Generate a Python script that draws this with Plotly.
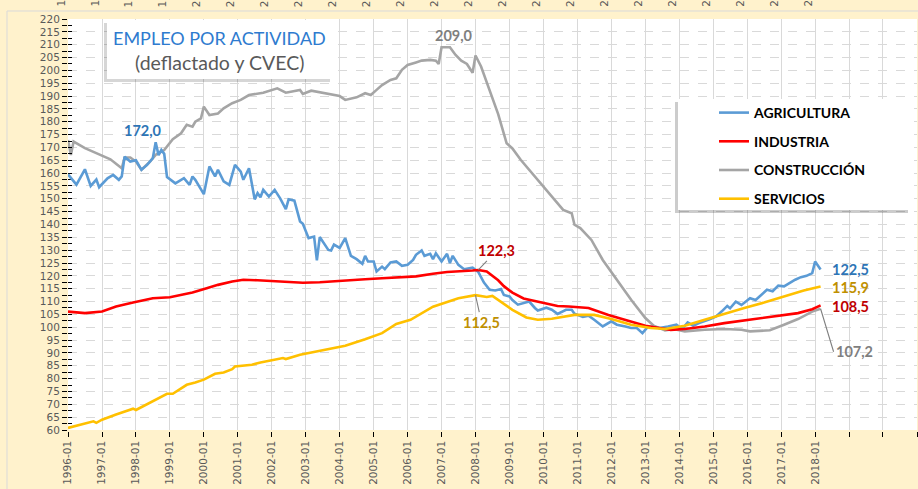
import plotly.graph_objects as go

# ---------------- DATA ----------------
agri_dates = ["1996-01","1996-04","1996-07","1996-09","1996-11","1996-12","1997-03","1997-05","1997-07","1997-08",
              "1997-09","1997-11","1998-01","1998-03","1998-05","1998-07","1998-08","1998-09","1998-10","1998-11",
              "1998-12","1999-03","1999-06","1999-08","1999-09","1999-10","2000-01","2000-03","2000-05","2000-06",
              "2000-08","2000-10","2000-12","2001-02","2001-03","2001-05","2001-07","2001-08","2001-09","2001-10",
              "2001-12","2002-02","2002-04","2002-06","2002-07","2002-09","2002-11","2002-12","2003-02","2003-04",
              "2003-05","2003-06","2003-09","2003-10","2003-11","2004-01","2004-03","2004-05","2004-07","2004-09",
              "2004-10","2004-11","2005-01","2005-02","2005-04","2005-05","2005-07","2005-09","2005-11","2006-01",
              "2006-03","2006-04","2006-06","2006-07","2006-09","2006-10","2006-11","2007-01","2007-03","2007-04",
              "2007-05","2007-07","2007-09","2007-12","2008-02","2008-04","2008-06","2008-08","2008-10","2008-11",
              "2009-01","2009-02","2009-04","2009-07","2009-08","2009-10","2009-11","2010-02","2010-04","2010-06",
              "2010-09","2010-11","2010-12","2011-03","2011-05","2011-07","2011-10","2012-01","2012-03","2012-06",
              "2012-08","2012-10","2012-12","2013-02","2013-06","2013-09","2013-12","2014-02","2014-04","2014-06",
              "2014-08","2014-12","2015-02","2015-04","2015-06","2015-07","2015-09","2015-11","2016-02","2016-04",
              "2016-06","2016-08","2016-10","2016-12","2017-02","2017-04","2017-06","2017-08","2017-10","2017-12",
              "2018-01","2018-03"]
agri_vals = [159.5,155.5,161.5,155.0,157.5,154.5,158.0,159.3,157.4,158.7,
             166.4,164.5,165.0,161.3,163.2,165.8,172.0,167.0,169.0,167.5,
             158.5,156.0,158.0,155.4,158.7,157.4,151.8,162.6,158.7,161.3,
             156.8,155.4,163.2,160.6,157.4,161.9,149.8,152.2,150.6,153.5,
             150.9,153.5,150.2,146.0,149.8,149.3,141.2,140.3,134.7,135.3,
             126.0,135.1,130.1,129.9,132.2,130.9,134.7,127.8,126.5,124.7,
             127.8,125.6,125.6,121.7,123.6,122.6,125.2,125.6,123.9,124.3,
             126.2,128.2,129.9,127.8,128.6,126.5,128.8,125.6,128.6,125.0,
             127.8,124.3,122.6,123.2,121.5,117.4,114.6,114.3,114.9,112.6,
             112.0,110.6,108.8,109.5,110.0,107.5,106.5,107.6,106.8,105.2,
             106.8,106.8,105.3,104.0,104.5,102.9,100.3,102.3,101.0,100.3,
             99.7,99.7,97.7,100.3,99.7,100.3,101.0,99.3,101.9,100.6,
             101.6,103.2,104.2,106.1,108.3,107.4,110.0,108.7,111.3,110.6,
             112.6,114.6,114.0,116.2,115.9,117.2,118.5,119.5,120.0,121.1,
             125.6,122.5]

ind_dates = ["1996-01","1996-07","1997-01","1997-06","1997-12","1998-07","1999-01","1999-04","1999-09","2000-02",
             "2000-06","2000-11","2001-03","2001-08","2002-01","2002-06","2002-12","2003-06","2004-04","2004-10",
             "2005-04","2006-04","2006-10","2007-03","2007-12","2008-02","2008-05","2008-07","2008-09","2008-11",
             "2009-02","2009-06","2009-11","2010-02","2010-06","2010-10","2011-05","2011-12","2012-06","2013-01",
             "2013-06","2013-10","2014-03","2014-10","2015-05","2016-02","2016-12","2017-07","2017-12","2018-03"]
ind_vals = [106.1,105.5,106.1,108.1,109.6,111.3,111.7,112.3,113.5,115.2,
            116.5,117.8,118.5,118.3,118.0,117.8,117.3,117.5,118.4,118.7,
            119.1,119.8,120.8,121.5,122.1,122.3,121.7,120.0,118.3,116.0,
            113.5,111.2,110.0,109.1,108.3,108.1,107.5,104.8,102.9,100.6,
            99.7,99.0,99.3,100.3,101.6,102.9,104.5,105.5,107.0,108.5]

cons_dates = ["1996-01","1996-02","1996-03","1996-07","1996-12","1997-04","1997-08","1997-09","1997-11","1998-01",
              "1998-03","1998-06","1998-08","1998-09","1998-11","1999-02","1999-05","1999-07","1999-09","1999-10",
              "1999-12","2000-01","2000-03","2000-06","2000-08","2000-11","2001-02","2001-05","2001-10","2002-03",
              "2002-06","2002-11","2002-12","2003-03","2003-08","2004-01","2004-03","2004-07","2004-10","2004-12",
              "2005-02","2005-04","2005-07","2005-09","2005-11","2006-01","2006-04","2006-06","2006-09","2006-11",
              "2006-12","2007-01","2007-04","2007-06","2007-08","2007-10","2007-12","2008-01","2008-03","2008-05",
              "2008-09","2008-12","2009-02","2009-05","2009-07","2009-11","2010-04","2010-06","2010-08","2010-11",
              "2010-12","2011-02","2011-06","2011-10","2012-03","2012-08","2013-01","2013-04","2013-08","2013-11",
              "2014-03","2014-10","2015-05","2015-11","2016-02","2016-09","2017-02","2017-07","2017-12","2018-03"]
cons_vals = [172.9,167.1,172.3,169.7,167.3,165.4,161.9,166.1,166.1,164.5,
             161.3,164.5,167.1,167.7,169.0,173.2,175.5,178.8,178.1,180.0,
             181.3,185.9,182.6,183.2,185.2,187.2,188.5,190.4,191.3,193.0,
             191.3,192.4,190.8,192.1,191.1,190.0,188.5,189.5,191.1,190.4,
             192.4,194.3,196.3,196.9,200.2,202.1,203.1,203.8,204.1,203.8,
             202.5,209.0,209.0,206.0,203.8,202.5,199.1,205.8,201.5,195.5,
             183.0,171.6,169.6,165.2,162.6,157.4,150.9,148.3,145.7,144.4,
             139.9,138.6,134.0,126.2,118.5,110.7,103.6,100.6,98.8,99.3,
             98.4,99.0,99.3,99.0,98.4,98.8,101.0,103.2,106.1,107.2]

serv_dates = ["1996-01","1996-10","1996-11","1997-01","1997-06","1997-12","1998-01","1998-07","1998-12","1999-02",
              "1999-05","1999-07","1999-10","2000-01","2000-05","2000-08","2000-11","2000-12","2001-06","2001-09",
              "2002-05","2002-06","2002-11","2003-06","2003-11","2004-03","2004-10","2005-04","2005-09","2006-02",
              "2006-10","2007-07","2008-01","2008-05","2008-07","2008-10","2009-02","2009-07","2009-11","2010-04",
              "2010-12","2011-07","2012-01","2012-08","2013-03","2013-08","2014-03","2014-10","2015-05","2015-12",
              "2016-07","2017-02","2017-09","2018-03"]
serv_vals = [60.8,63.4,62.8,64.0,66.0,68.3,67.8,71.1,74.1,74.1,
             76.3,77.6,78.5,79.6,81.9,82.4,83.7,84.7,85.4,86.3,
             88.0,87.6,89.3,90.8,91.9,92.8,95.3,97.7,101.3,102.9,
             108.0,111.3,112.5,111.8,112.2,110.0,106.8,103.8,102.9,103.3,
             104.8,104.8,103.2,101.0,99.7,99.3,100.6,102.9,105.3,107.5,
             109.6,112.0,114.3,115.9]

series_names = ["AGRICULTURA", "INDUSTRIA", "CONSTRUCCIÓN", "SERVICIOS"]
year_tick_vals = [f"{y}-01-01" for y in range(1996, 2022)]
year_tick_text = [f"{y}-01" if y <= 2018 else "" for y in range(1996, 2022)]

# ---------------- LAYOUT HELPERS ----------------
W, H = 918, 489
L, R, T, B = 68, 1, 19, 59
PW, PH = W - L - R, H - T - B
def fx(p):  # pixel x -> paper
    return (p - L) / PW
def fy(p):  # pixel y -> paper
    return (H - B - p) / PH

C_AGRI, C_IND, C_CONS, C_SERV = "#5B9BD5", "#FF0000", "#A5A5A5", "#FFC000"
LBL_FONT = "Lato"
TICK_FONT = "DejaVu Sans"

fig = go.Figure()
fig.add_trace(go.Scatter(x=agri_dates, y=agri_vals, mode="lines", name=series_names[0],
                         line=dict(color=C_AGRI, width=2.6), zorder=1, legendgroup="g1"))
fig.add_trace(go.Scatter(x=ind_dates, y=ind_vals, mode="lines", name=series_names[1],
                         line=dict(color=C_IND, width=2.6), zorder=2, legendgroup="g2"))
fig.add_trace(go.Scatter(x=cons_dates, y=cons_vals, mode="lines", name=series_names[2],
                         line=dict(color=C_CONS, width=2.6), zorder=0, legendgroup="g3"))
fig.add_trace(go.Scatter(x=serv_dates, y=serv_vals, mode="lines", name=series_names[3],
                         line=dict(color=C_SERV, width=2.6), zorder=3, legendgroup="g4"))
# invisible trace to activate the overlay axis carrying inner tick marks
fig.add_trace(go.Scatter(x=[agri_dates[0]], y=[None], yaxis="y2", showlegend=False,
                         hoverinfo="skip", mode="lines"))

shapes = [
    # chart area border
    dict(type="rect", xref="paper", yref="paper", x0=fx(7), x1=fx(940), y0=fy(500), y1=fy(11),
         line=dict(color="#D9D9D9", width=1), fillcolor="rgba(0,0,0,0)", layer="below"),
    # title box shadow + box
    dict(type="rect", xref="paper", yref="paper", x0=fx(104), x1=fx(330), y0=fy(82), y1=fy(23),
         line=dict(width=0), fillcolor="rgba(0,0,0,0.16)", layer="above"),
    dict(type="rect", xref="paper", yref="paper", x0=fx(107), x1=fx(332), y0=fy(79), y1=fy(20),
         line=dict(width=0), fillcolor="white", layer="above"),
    # legend box shadow + box
    dict(type="rect", xref="paper", yref="paper", x0=fx(675), x1=fx(908), y0=fy(213), y1=fy(102),
         line=dict(width=0), fillcolor="rgba(0,0,0,0.2)", layer="above"),
    dict(type="rect", xref="paper", yref="paper", x0=fx(678), x1=fx(911), y0=fy(210), y1=fy(99),
         line=dict(width=0), fillcolor="white", layer="above"),
]

def lab(x, y, text, color, **kw):
    d = dict(x=x, y=y, xref="x", yref="y", text=f"<b>{text}</b>", showarrow=False,
             xanchor="center", yanchor="middle",
             font=dict(family=LBL_FONT, size=14.5, color=color))
    d.update(kw)
    return d

i_agri_max = agri_vals.index(max(agri_vals[:30]))
i_cons_max = cons_vals.index(max(cons_vals))
i_ind_max = ind_vals.index(max(ind_vals))
i_serv_max = serv_vals.index(max(serv_vals[:40]))

LEADER = dict(showarrow=True, arrowhead=0, arrowwidth=1.1, arrowcolor="#7F7F7F", standoff=0)

annotations = [
    dict(x=0.5 * (fx(107) + fx(332)), y=fy(38), xref="paper", yref="paper", text="EMPLEO POR ACTIVIDAD",
         xanchor="center", yanchor="middle",
         showarrow=False, font=dict(family=LBL_FONT, size=18, color="#2E7BCF")),
    dict(x=0.5 * (fx(107) + fx(332)), y=fy(63), xref="paper", yref="paper", text="(deflactado y CVEC)",
         xanchor="center", yanchor="middle",
         showarrow=False, font=dict(family=LBL_FONT, size=19.5, color="#595959")),
    lab(agri_dates[i_agri_max], agri_vals[i_agri_max], "172,0", "#2E75B6",
        yanchor="bottom", xshift=-13, yshift=1),
    lab(cons_dates[i_cons_max], cons_vals[i_cons_max], "209,0", "#7F7F7F",
        yanchor="bottom", xshift=12, yshift=1),
    lab(ind_dates[i_ind_max], ind_vals[i_ind_max], "122,3", "#C00000", ax=18, ay=-19, **LEADER),
    lab(serv_dates[i_serv_max], serv_vals[i_serv_max], "112,5", "#BF9000", ax=6, ay=27, **LEADER),
    lab(agri_dates[-1], agri_vals[-1], "122,5", "#2E75B6", xanchor="left", xshift=9),
    lab(serv_dates[-1], serv_vals[-1], "115,9", "#BF9000", xanchor="left", xshift=9, yshift=-1),
    lab(ind_dates[-1], ind_vals[-1], "108,5", "#C00000", xanchor="left", xshift=9, yshift=-1),
    lab(cons_dates[-1], cons_vals[-1], "107,2", "#7F7F7F", ax=13, ay=43, **LEADER),
]
annotations[-1]["xanchor"] = "left"
# visible first characters of the clipped tick labels of the chart above (top strip)
for v, t in zip(year_tick_vals, year_tick_text):
    if t:
        annotations.append(dict(x=v, y=fy(8), xref="x", yref="paper", text=t[0], showarrow=False,
                                textangle=-90, xanchor="center", yanchor="bottom", xshift=-7,
                                borderpad=0,
                                font=dict(family=TICK_FONT, size=10.5, color="#595959")))

fig.update_layout(
    width=W, height=H,
    margin=dict(l=L, r=R, t=T, b=B, pad=0, autoexpand=False),
    paper_bgcolor="#FFF2CC",
    plot_bgcolor="white",
    showlegend=True,
    legend=dict(x=fx(714), y=fy(97), xanchor="left", yanchor="top", bgcolor="rgba(0,0,0,0)",
                font=dict(family=LBL_FONT, size=14, color="black", weight="bold"),
                tracegroupgap=7.5, itemwidth=30, traceorder="grouped"),
    shapes=shapes,
    annotations=annotations,
    xaxis=dict(type="date", range=["1996-01-01", "2021-01-01"],
               tickmode="array", tickvals=year_tick_vals, ticktext=year_tick_text,
               tickangle=-90, tickfont=dict(family=TICK_FONT, size=10.5, color="#595959"),
               showgrid=True, gridcolor="#D9D9D9", gridwidth=1,
               showline=True, linecolor="black", linewidth=1.5,
               ticks="outside", ticklen=5, tickcolor="black", zeroline=False, automargin=False),
    yaxis=dict(range=[60, 220], dtick=5, tick0=60,
               tickfont=dict(family=TICK_FONT, size=10.5, color="#595959"),
               showgrid=True, gridcolor="#D9D9D9", gridwidth=1, griddash="dash",
               showline=True, linecolor="black", linewidth=1, automargin=False,
               ticks="outside", ticklen=5, tickcolor="black", zeroline=False,
               minor=dict(dtick=2.5, ticks="outside", ticklen=5, tickcolor="black", showgrid=False)),
    yaxis2=dict(range=[60, 220], dtick=5, tick0=60, overlaying="y", side="left",
                showticklabels=False, showgrid=False, zeroline=False, showline=False,
                ticks="inside", ticklen=4, tickcolor="black",
                minor=dict(dtick=2.5, ticks="inside", ticklen=4, tickcolor="black", showgrid=False)),
)

fig.write_html("out.html", config={"displayModeBar": False},
               post_script="document.body.style.margin='0';document.body.style.overflow='hidden';")
